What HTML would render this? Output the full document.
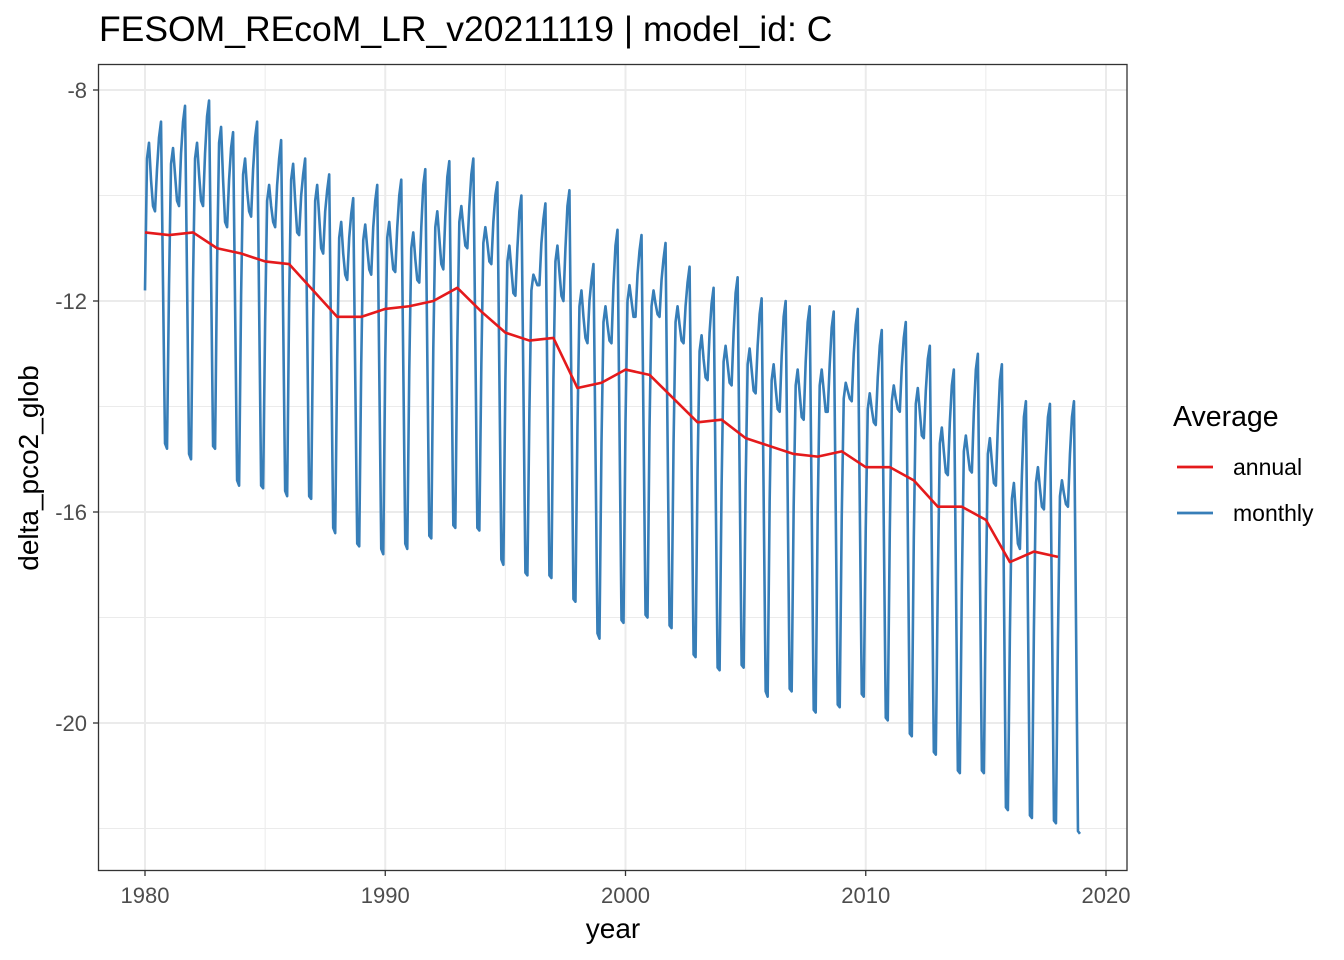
<!DOCTYPE html>
<html><head><meta charset="utf-8"><style>
html,body{margin:0;padding:0;background:#fff;}
svg{display:block;font-family:"Liberation Sans",Arial,sans-serif;}
</style></head><body>
<svg id="chart" width="1344" height="960" viewBox="0 0 1344 960">
<text x="99" y="41" font-size="35.5" fill="#000">FESOM_REcoM_LR_v20211119 | model_id: C</text>
<g id="grid"></g>
<g id="series"></g>
<rect x="98.5" y="64.5" width="1028.5" height="806" fill="none" stroke="#333" stroke-width="1.3"/>
<g id="axes"></g>
<text x="613" y="938" font-size="28" text-anchor="middle" fill="#000">year</text>
<text transform="translate(38,468) rotate(-90)" font-size="28" text-anchor="middle" fill="#000">delta_pco2_glob</text>
<g>
<text x="1173" y="426" font-size="28.5" fill="#000">Average</text>
<line x1="1177" y1="467" x2="1213" y2="467" stroke="#e41a1c" stroke-width="2.8"/>
<text x="1233" y="475" font-size="23" fill="#000">annual</text>
<line x1="1177" y1="513" x2="1213" y2="513" stroke="#377eb8" stroke-width="2.8"/>
<text x="1233" y="521" font-size="23" fill="#000">monthly</text>
</g>
</svg>
<script>
const annualYears = [1980,1981,1982,1983,1984,1985,1986,1987,1988,1989,1990,1991,1992,1993,1994,1995,1996,1997,1998,1999,2000,2001,2002,2003,2004,2005,2006,2007,2008,2009,2010,2011,2012,2013,2014,2015,2016,2017,2018];
const annualValues = [-10.7,-10.75,-10.7,-11.0,-11.1,-11.25,-11.3,-11.8,-12.3,-12.3,-12.15,-12.1,-12.0,-11.75,-12.2,-12.6,-12.75,-12.7,-13.65,-13.55,-13.3,-13.4,-13.85,-14.3,-14.25,-14.6,-14.75,-14.9,-14.95,-14.85,-15.15,-15.15,-15.4,-15.9,-15.9,-16.15,-16.95,-16.75,-16.85];
const monthlyValues = [
[-11.8,-9.3,-9.0,-9.7,-10.2,-10.3,-9.5,-8.9,-8.6,-11.7,-14.7,-14.8],
[-11.7,-9.4,-9.1,-9.6,-10.1,-10.2,-9.2,-8.6,-8.3,-11.6,-14.9,-15.0],
[-11.6,-9.3,-9.0,-9.6,-10.1,-10.2,-9.2,-8.5,-8.2,-11.5,-14.75,-14.8],
[-11.3,-9.0,-8.7,-9.7,-10.5,-10.6,-9.7,-9.1,-8.8,-12.1,-15.4,-15.5],
[-11.9,-9.6,-9.3,-9.9,-10.3,-10.4,-9.5,-8.9,-8.6,-12.1,-15.5,-15.55],
[-12.4,-10.1,-9.8,-10.2,-10.5,-10.6,-9.8,-9.3,-8.95,-12.3,-15.6,-15.7],
[-12.0,-9.7,-9.4,-10.1,-10.7,-10.75,-10.0,-9.6,-9.3,-12.5,-15.7,-15.75],
[-12.4,-10.1,-9.8,-10.4,-11.0,-11.1,-10.3,-9.9,-9.6,-13.0,-16.3,-16.4],
[-13.1,-10.8,-10.5,-11.1,-11.5,-11.6,-10.8,-10.35,-10.05,-13.4,-16.6,-16.65],
[-13.2,-10.85,-10.55,-11.0,-11.4,-11.5,-10.6,-10.1,-9.8,-13.3,-16.7,-16.8],
[-13.1,-10.8,-10.5,-11.0,-11.4,-11.45,-10.6,-10.0,-9.7,-13.2,-16.6,-16.7],
[-13.3,-11.0,-10.7,-11.2,-11.6,-11.65,-10.6,-9.8,-9.5,-13.0,-16.45,-16.5],
[-12.9,-10.6,-10.3,-10.8,-11.3,-11.4,-10.4,-9.65,-9.35,-12.8,-16.25,-16.3],
[-12.8,-10.5,-10.2,-10.6,-10.95,-11.0,-10.2,-9.6,-9.3,-12.8,-16.3,-16.35],
[-13.2,-10.9,-10.6,-10.9,-11.25,-11.3,-10.5,-10.0,-9.75,-13.4,-16.9,-17.0],
[-13.5,-11.25,-10.95,-11.4,-11.85,-11.9,-11.0,-10.3,-10.0,-13.6,-17.15,-17.2],
[-14.1,-11.8,-11.5,-11.6,-11.7,-11.7,-10.9,-10.45,-10.15,-13.7,-17.2,-17.25],
[-13.5,-11.25,-10.95,-11.45,-11.9,-12.0,-11.0,-10.2,-9.9,-13.8,-17.65,-17.7],
[-14.4,-12.1,-11.8,-12.3,-12.7,-12.8,-12.0,-11.6,-11.3,-14.8,-18.3,-18.4],
[-14.7,-12.4,-12.1,-12.45,-12.75,-12.8,-11.7,-10.95,-10.65,-14.4,-18.05,-18.1],
[-14.3,-12.0,-11.7,-12.0,-12.3,-12.3,-11.5,-11.05,-10.75,-14.4,-17.95,-18.0],
[-14.4,-12.1,-11.8,-12.05,-12.25,-12.3,-11.6,-11.2,-10.9,-14.55,-18.15,-18.2],
[-14.7,-12.4,-12.1,-12.45,-12.75,-12.8,-12.1,-11.65,-11.35,-15.05,-18.7,-18.75],
[-15.2,-12.95,-12.65,-13.1,-13.45,-13.5,-12.6,-12.05,-11.75,-15.4,-18.95,-19.0],
[-15.5,-13.15,-12.85,-13.2,-13.55,-13.6,-12.6,-11.85,-11.55,-15.25,-18.9,-18.95],
[-15.5,-13.2,-12.9,-13.3,-13.7,-13.75,-12.85,-12.25,-11.95,-15.7,-19.4,-19.5],
[-15.8,-13.5,-13.2,-13.65,-14.05,-14.1,-13.05,-12.3,-12.0,-15.7,-19.35,-19.4],
[-15.9,-13.6,-13.3,-13.75,-14.2,-14.25,-13.15,-12.4,-12.1,-15.95,-19.75,-19.8],
[-16.0,-13.6,-13.3,-13.7,-14.1,-14.1,-13.2,-12.5,-12.2,-15.95,-19.65,-19.7],
[-16.1,-13.85,-13.55,-13.7,-13.85,-13.9,-13.0,-12.45,-12.15,-15.8,-19.45,-19.5],
[-16.3,-14.05,-13.75,-14.05,-14.3,-14.35,-13.45,-12.85,-12.55,-16.25,-19.9,-19.95],
[-16.4,-13.9,-13.6,-13.85,-14.05,-14.1,-13.25,-12.7,-12.4,-16.3,-20.2,-20.25],
[-16.5,-13.95,-13.65,-14.1,-14.55,-14.6,-13.7,-13.1,-12.85,-16.7,-20.55,-20.6],
[-17.3,-14.7,-14.4,-14.85,-15.25,-15.3,-14.3,-13.6,-13.3,-17.1,-20.9,-20.95],
[-17.4,-14.85,-14.55,-14.9,-15.2,-15.25,-14.1,-13.3,-13.0,-17.0,-20.9,-20.95],
[-17.5,-14.9,-14.6,-15.05,-15.45,-15.5,-14.35,-13.5,-13.2,-17.4,-21.6,-21.65],
[-18.3,-15.75,-15.45,-16.05,-16.6,-16.7,-15.3,-14.2,-13.9,-17.85,-21.75,-21.8],
[-18.2,-15.45,-15.15,-15.55,-15.9,-15.95,-14.95,-14.2,-13.95,-17.9,-21.85,-21.9],
[-18.4,-15.7,-15.4,-15.65,-15.85,-15.9,-14.9,-14.2,-13.9,-18.0,-22.05,-22.1]
];
const xTicks = [1980,1990,2000,2010,2020];
const xMinor = [1985,1995,2005,2015];
const yTicks = [-8,-12,-16,-20];
const yMinor = [-10,-14,-18,-22];

const NS = "http://www.w3.org/2000/svg";
const X = v => 145 + (v - 1980) * (1106 - 145) / 40;
const Y = v => 90 + (-8 - v) * (723 - 90) / 12;
function mk(tag, attrs, parent){ const e=document.createElementNS(NS,tag); for(const k in attrs) e.setAttribute(k,attrs[k]); parent.appendChild(e); return e; }
const grid=document.getElementById('grid'), axes=document.getElementById('axes'), series=document.getElementById('series');

xMinor.forEach(t=>{ const l=mk('line',{x1:X(t),x2:X(t),y1:65,y2:870,stroke:'#ebebeb','stroke-width':1},grid);

 });
yMinor.forEach(t=>{ const l=mk('line',{x1:99,x2:1127,y1:Y(t),y2:Y(t),stroke:'#ebebeb','stroke-width':1},grid);

 });
xTicks.forEach(t=>{ const l=mk('line',{x1:X(t),x2:X(t),y1:65,y2:870,stroke:'#ebebeb','stroke-width':2},grid);


const tk=mk('line',{x1:X(t),x2:X(t),y1:871,y2:876,stroke:'#333','stroke-width':1.3},axes);


const tx=mk('text',{x:X(t),y:903,'font-size':22,'text-anchor':'middle',fill:'#4d4d4d'},axes); tx.textContent=t;

 });
yTicks.forEach(t=>{ const l=mk('line',{x1:99,x2:1127,y1:Y(t),y2:Y(t),stroke:'#ebebeb','stroke-width':2},grid);


const tk=mk('line',{x1:93,x2:98,y1:Y(t),y2:Y(t),stroke:'#333','stroke-width':1.3},axes);


const tx=mk('text',{x:87,y:Y(t)+8,'font-size':22,'text-anchor':'end',fill:'#4d4d4d'},axes); tx.textContent=t;

 });

let pts=[];
monthlyValues.forEach((row,i)=>row.forEach((v,m)=>{ pts.push(X(annualYears[i]+m/12).toFixed(2)+','+Y(v).toFixed(2)); }));
const mline=mk('polyline',{points:pts.join(' '),fill:'none',stroke:'#377eb8','stroke-width':2.6,'stroke-linejoin':'round'},series);


const apts=annualValues.map((v,i)=>X(annualYears[i]).toFixed(2)+','+Y(v).toFixed(2));
const aline=mk('polyline',{points:apts.join(' '),fill:'none',stroke:'#e41a1c','stroke-width':2.6,'stroke-linejoin':'round'},series);


</script>
</body></html>
